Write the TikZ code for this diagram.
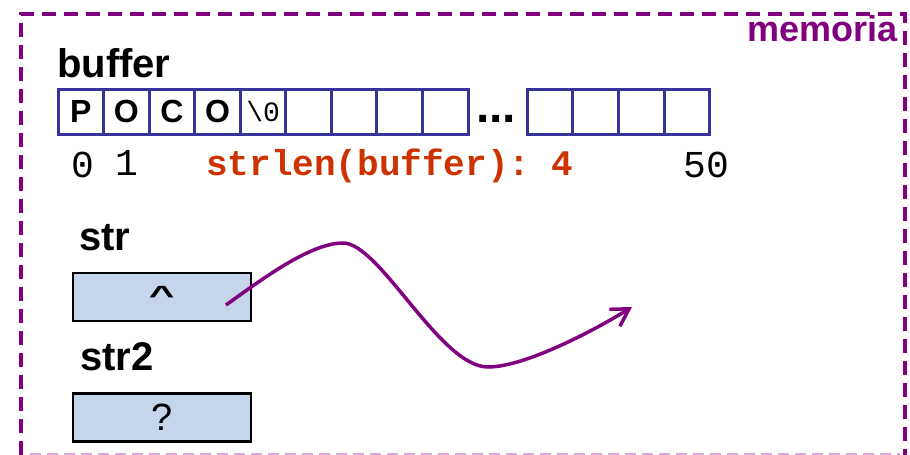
\documentclass[tikz,border=0pt]{standalone}
\usepackage{fontspec}
\usepackage{graphicx}
\setmainfont{Liberation Sans}
\setmonofont{Liberation Mono}
\usetikzlibrary{arrows.meta}
\definecolor{memviolet}{HTML}{800080}
\definecolor{cellblue}{HTML}{333399}
\definecolor{boxfill}{HTML}{C5D6EA}
\definecolor{lenred}{HTML}{CC3300}
\definecolor{lightviolet}{HTML}{DDA6E0}
\begin{document}
\begin{tikzpicture}[x=1pt,y=-1pt,
  cell/.style={draw=cellblue, line width=3pt, minimum width=45.6pt, minimum height=45pt, inner sep=0pt, font=\fontsize{32}{32}\selectfont\bfseries},
  varbox/.style={draw=black, line width=2.2pt, fill=boxfill, minimum width=178pt, minimum height=48pt, inner sep=0pt, font=\fontsize{38}{38}\selectfont},
  lbl/.style={anchor=base west, inner sep=0pt, font=\fontsize{40}{40}\selectfont\bfseries},
  idx/.style={anchor=base, inner sep=0pt, font=\fontsize{38}{38}\selectfont\ttfamily},
  frame/.style={memviolet, line width=4pt, dash pattern=on 14pt off 8pt},
]
\useasboundingbox (0,0) rectangle (910,455);
% memory frame
\draw[frame] (21,455) -- (21,14) -- (905,14) -- (905,455);
\draw[lightviolet, line width=2pt, dash pattern=on 11pt off 6pt] (30,454) -- (900,454);
\node[anchor=base east, inner sep=0pt, text=memviolet, font=\fontsize{36}{36}\selectfont\bfseries] (mem) at (898,41) {memoria};
% buffer
\node[lbl] (lbuf) at (57,77) {buffer};
\node[cell] (c0) at (80.8,111.5) {P};
\node[cell] (c1) at (126.3,111.5) {O};
\node[cell] (c2) at (171.9,111.5) {C};
\node[cell] (c3) at (217.5,111.5) {O};
\node[cell, font=\fontsize{28}{28}\selectfont\ttfamily] (c4) at (263.1,111.5) {\textbackslash 0};
\foreach \i in {5,...,8} \node[cell] (c\i) at ({58+45.56*\i+22.78},111.5) {};
\node[anchor=base, inner sep=0pt, font=\fontsize{48}{48}\selectfont\bfseries] (dots) at (496,122) {...};
\foreach \i in {0,...,3} \node[cell] (d\i) at ({527+45.75*\i+22.87},111.5) {};
% indices
\node[idx] (i0) at (83,177) {0};
\node[idx] (i1) at (127,175) {1};
\node[idx] (i50) at (706,177) {50};
\node[anchor=base west, inner sep=0pt, text=lenred, font=\fontsize{36}{36}\selectfont\ttfamily\bfseries] (len) at (206,175) {strlen(buffer): 4};
% str
\node[lbl] (lstr) at (79,250) {str};
\node[varbox] (str) at (162,297) {};
\node[anchor=base, inner sep=0pt, font=\fontsize{44}{44}\selectfont\ttfamily\bfseries] (caret) at (162,304) {\scalebox{1}[0.6]{\textasciicircum}};
\node[lbl] (lstr2) at (80,370) {str2};
\node[varbox] (str2) at (162,417.5) {?};
% pointer
\coordinate (ps) at (226,305);
\coordinate (pe) at (632,307);
\draw[memviolet, line width=3.5pt, -{Straight Barb[length=17pt,width=20pt]}]
  (ps) .. controls (261,280) and (310,243) .. (343,243)
       .. controls (380,243) and (440,367) .. (488,367)
       .. controls (525,367) and (595,330) .. (pe);
\end{tikzpicture}
\end{document}
